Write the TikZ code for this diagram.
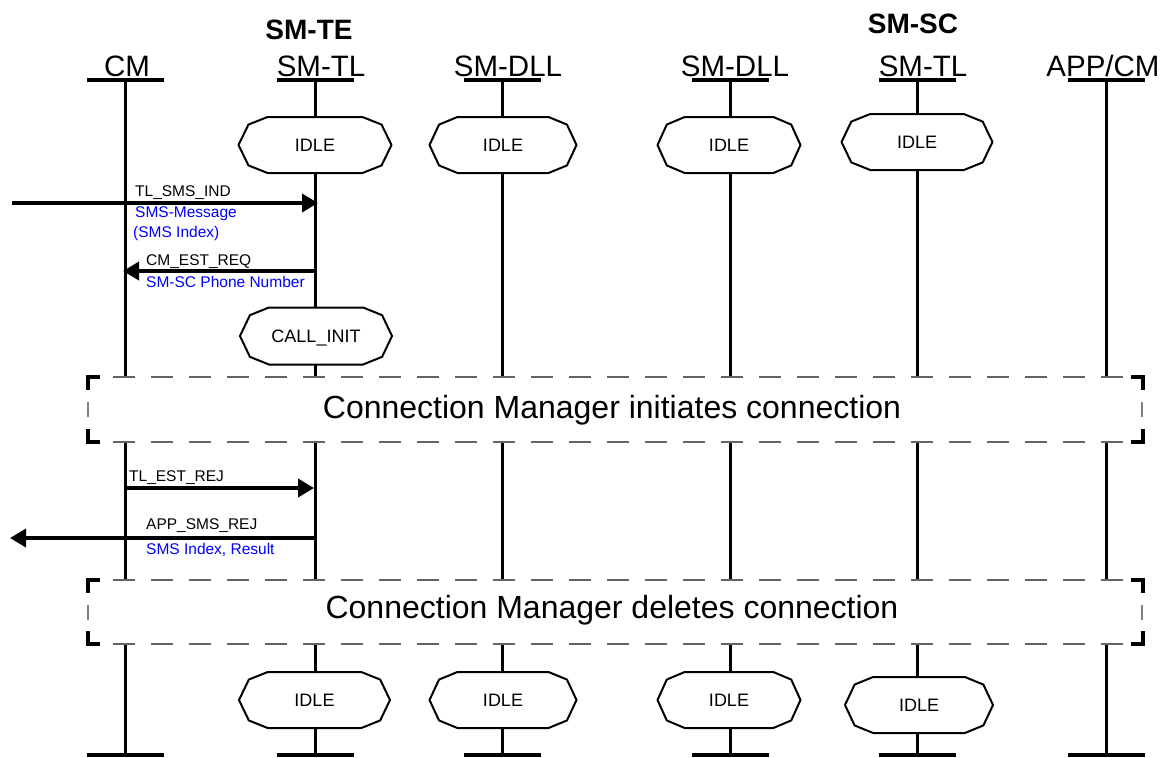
\documentclass[tikz,border=0pt]{standalone}
\usepackage{fontspec}
\setmainfont{Liberation Sans}
\usetikzlibrary{arrows.meta,calc}
\newcommand{\statenode}[6]{%
 \begin{scope}[shift={(#2,#3)}]
  \filldraw[statebox] (-0.31*#4,-0.5*#5) -- (0.31*#4,-0.5*#5) -- (0.435*#4,-0.365*#5) -- (0.5*#4,0) -- (0.435*#4,0.365*#5) -- (0.31*#4,0.5*#5) -- (-0.31*#4,0.5*#5) -- (-0.435*#4,0.365*#5) -- (-0.5*#4,0) -- (-0.435*#4,-0.365*#5) -- cycle;
 \end{scope}
 \node[statetext] (#1) at (#2,#3) {#6};}
\begin{document}
\begin{tikzpicture}[x=1pt,y=-1pt,
  lifeline/.style={line width=3pt},
  bar/.style={line width=4pt},
  msg/.style={line width=3.5pt,-{Triangle[length=16pt,width=18pt]}},
  lane/.style={anchor=base,font=\fontsize{29.5}{29.5}\selectfont,inner sep=0},
  group/.style={anchor=base,font=\bfseries\fontsize{28}{28}\selectfont,inner sep=0},
  statebox/.style={draw=black,fill=white,line width=2pt,line join=round},
  statetext/.style={font=\fontsize{18}{18}\selectfont,inner sep=0,text height=12.9pt,text depth=0pt},
  lbl/.style={anchor=base west,font=\fontsize{15.5}{15.5}\selectfont,inner sep=0},
  blbl/.style={lbl,text=blue},
  dashline/.style={draw=black!60,line width=1.2pt,dash pattern=on 22pt off 16pt},
  corner/.style={line width=4pt},
  tick/.style={draw=black!50,line width=1.2pt},
  boxtext/.style={anchor=base,font=\fontsize{32}{32}\selectfont,inner sep=0}
]
\useasboundingbox (0,0) rectangle (1176,758);

% lifelines and bars
\foreach \x in {125,315,502,730,917,1106}{
  \draw[lifeline] (\x,80) -- (\x,377);
  \draw[lifeline] (\x,442) -- (\x,580);
  \draw[lifeline] (\x,644) -- (\x,755);
  \draw[bar] (\x-38.5,80) -- (\x+38.5,80);
  \draw[bar] (\x-38.5,755) -- (\x+38.5,755);
}

% headers
\node[group] (te) at (309,39) {SM-TE};
\node[group] (sc) at (913,33) {SM-SC};
\node[lane] (cm) at (127,76) {CM};
\node[lane] (tl1) at (321,76) {SM-TL};
\node[lane] (dll1) at (508,76) {SM-DLL};
\node[lane] (dll2) at (735,76) {SM-DLL};
\node[lane] (tl2) at (923,76) {SM-TL};
\node[lane] (app) at (1103,76) {APP/CM};

% states
\statenode{s1}{315}{145}{153}{56}{IDLE}
\statenode{s2}{503}{145}{147}{56}{IDLE}
\statenode{s3}{729}{145}{143}{56}{IDLE}
\statenode{s4}{917}{142}{151}{56}{IDLE}
\statenode{s5}{316}{336}{152}{57}{CALL\_INIT}
\statenode{s6}{314.5}{700}{151}{56}{IDLE}
\statenode{s7}{503}{700}{147}{56}{IDLE}
\statenode{s8}{729}{700}{143}{56}{IDLE}
\statenode{s9}{919}{705}{148}{56}{IDLE}

% messages
\coordinate (m1a) at (12,203); \coordinate (m1b) at (318,203);
\draw[msg] (m1a) -- (m1b);
\node[lbl] (l1) at (135,196) {TL\_SMS\_IND};
\node[blbl] (l1b) at (135,217) {SMS-Message};
\node[blbl] (l1c) at (133,237) {(SMS Index)};

\coordinate (m2a) at (315,271); \coordinate (m2b) at (123,271);
\draw[msg] (m2a) -- (m2b);
\node[lbl] (l2) at (146,265) {CM\_EST\_REQ};
\node[blbl] (l2b) at (146,287) {SM-SC Phone Number};

\coordinate (m3a) at (125,488); \coordinate (m3b) at (314,488);
\draw[msg] (m3a) -- (m3b);
\node[lbl] (l3) at (129,481) {TL\_EST\_REJ};

\coordinate (m4a) at (315,538); \coordinate (m4b) at (10,538);
\draw[msg] (m4a) -- (m4b);
\node[lbl] (l4) at (146,529) {APP\_SMS\_REJ};
\node[blbl] (l4b) at (146,554) {SMS Index, Result};

% connection boxes
\foreach \t/\b/\m in {377/442/402, 580/644/605}{
  \draw[dashline] (113,\t) -- (1130,\t);
  \draw[dashline] (113,\b) -- (1130,\b);
  \draw[corner] (88,\t+13) -- (88,\t) -- (100,\t);
  \draw[corner] (88,\b-13) -- (88,\b) -- (100,\b);
  \draw[corner] (1131,\t) -- (1143,\t) -- (1143,\t+13);
  \draw[corner] (1131,\b) -- (1143,\b) -- (1143,\b-13);
  \draw[tick] (88,\m) -- (88,\m+15);
  \draw[tick] (1142,\m) -- (1142,\m+15);
}
\node[boxtext] (c1) at (612,418) {Connection Manager initiates connection};
\node[boxtext] (c2) at (612,618) {Connection Manager deletes connection};
\end{tikzpicture}
\end{document}
